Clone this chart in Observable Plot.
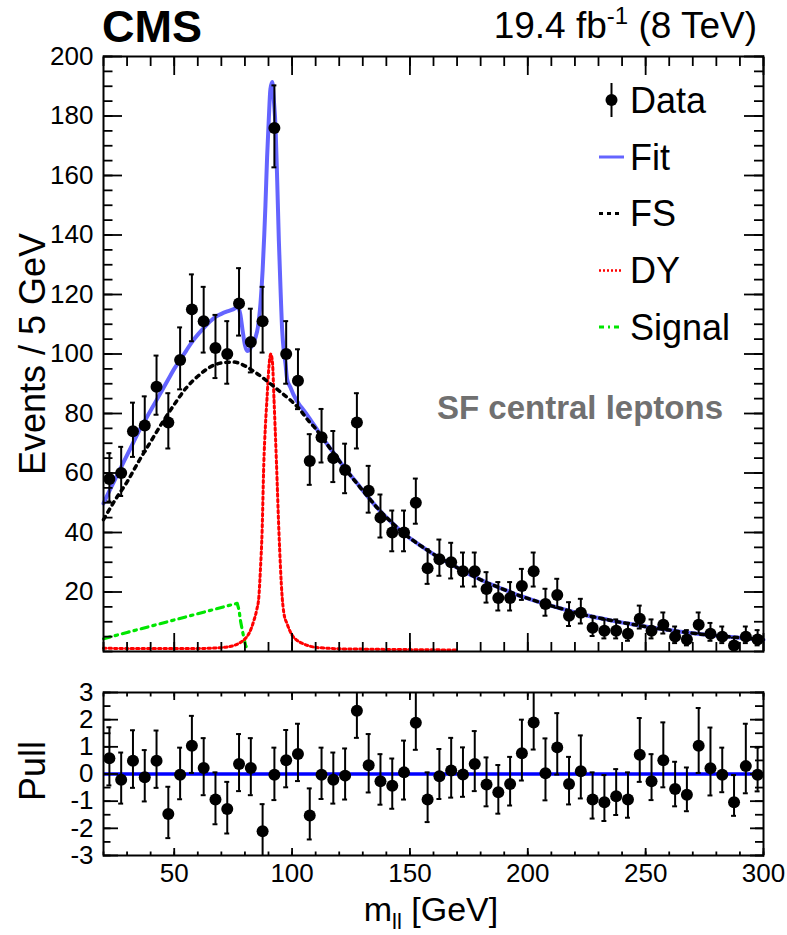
<!DOCTYPE html>
<html>
<head>
<meta charset="utf-8">
<script src="https://cdn.jsdelivr.net/npm/d3@7"></script>
<script src="https://cdn.jsdelivr.net/npm/@observablehq/plot@0.6"></script>
<style>
  html, body { margin: 0; padding: 0; background: #fff; }
  #chart { position: relative; width: 787px; height: 935px; overflow: hidden; background: #fff; }
  #chart > svg { position: absolute; left: 0; }
</style>
</head>
<body>
<div id="chart"></div>
<script>
// ---------------- data ----------------
const massBins = [22.5,27.5,32.5,37.5,42.5,47.5,52.5,57.5,62.5,67.5,72.5,77.5,82.5,87.5,92.5,97.5,102.5,107.5,112.5,117.5,122.5,127.5,132.5,137.5,142.5,147.5,152.5,157.5,162.5,167.5,172.5,177.5,182.5,187.5,192.5,197.5,202.5,207.5,212.5,217.5,222.5,227.5,232.5,237.5,242.5,247.5,252.5,257.5,262.5,267.5,272.5,277.5,282.5,287.5,292.5,297.5];
const events = [58,60,74,76,89,77,98,115,111,102,100,117,104,111,176,100,91,64,72,65,61,77,54,45,40,40,50,28,31,30,27,27,21,18,18,22,27,16,19,12,13,8,7,7,6,11,7,9,5,4,9,6,5,2,5,4];
const errLow = [7.60,7.73,8.59,8.70,9.42,8.76,9.89,10.71,10.52,10.09,9.99,10.81,10.19,10.52,13.26,9.99,9.53,7.98,8.47,8.05,7.79,8.76,7.33,6.69,6.31,6.31,7.05,5.27,5.55,5.45,5.17,5.17,4.56,4.22,4.22,4.66,5.17,3.97,4.33,3.43,3.58,2.79,2.60,2.60,2.40,3.28,2.60,2.96,2.18,1.94,2.96,2.40,2.18,1.32,2.18,1.94];
const errHigh = [8.67,8.79,9.65,9.76,10.47,9.82,10.94,11.76,11.57,11.14,11.04,11.85,11.23,11.57,14.29,11.04,10.58,9.05,9.53,9.11,8.86,9.82,8.40,7.77,7.38,7.38,8.13,6.36,6.63,6.54,6.27,6.27,5.67,5.33,5.33,5.77,6.27,5.09,5.44,4.57,4.71,3.97,3.78,3.78,3.60,4.43,3.78,4.12,3.40,3.18,4.12,3.60,3.40,2.66,3.40,3.18];

const pulls = [0.58,-0.21,0.49,-0.12,0.49,-1.47,-0.03,1.04,0.22,-0.94,-1.29,0.37,0.22,-2.11,-0.03,0.51,0.74,-1.53,-0.03,-0.21,-0.06,2.33,0.32,-0.27,-0.43,0.06,1.89,-0.94,-0.08,0.13,-0.02,0.37,-0.39,-0.67,-0.37,0.76,1.90,0.03,0.98,-0.37,0.10,-0.94,-1.04,-0.82,-0.94,0.71,-0.27,0.51,-0.55,-0.76,1.04,0.21,-0.03,-1.04,0.29,-0.03];
const pullErrLow = [1,0.88,1,0.89,1,0.89,0.90,1,1,0.91,0.90,1,1,0.91,0.93,1,1,0.88,0.89,0.88,0.88,1,1,0.86,0.85,1,1,0.83,0.84,1,0.82,1,0.80,0.79,0.79,1,1,1,1,0.75,1,0.70,0.69,0.69,0.67,1,0.69,1,0.64,0.61,1,1,0.64,0.50,1,0.61];
const pullErrHigh = [1.14,1,1.12,1,1.11,1,1,1.10,1.10,1,1,1.10,1.10,1,1,1.11,1.11,1,1,1,1,1.12,1.15,1,1,1.17,1.15,1,1,1.20,1,1.21,1,1,1,1.24,1.21,1.28,1.26,1,1.32,1,1,1,1,1.35,1,1.39,1,1,1.39,1.50,1,1,1.56,1];

const fitMass = [20,22.5,25,27.5,30,32.5,35,37.5,40,42.5,45,47.5,50,52.5,55,57.5,60,62.5,65,67.5,70,72.5,75,77,78,79,80,81,82,83,84.5,85.5,86.6,87.5,88.2,88.7,89.4,90.1,90.8,91.6,92.3,93,93.7,94.4,95.1,95.8,96.5,97.2,97.9,99.3,100.5,102.9,105,107.1,110,112.5,117.5,122.5,127.5,132.5,137.5,142.5,147.5,152.5,157.5,162.5,167.5,172.5,177.5,182.5,187.5,192.5,197.5,202.5,207.5,212.5,217.5,222.5,227.5,232.5,237.5,242.5,247.5,252.5,257.5,262.5,267.5,272.5,277.5,282.5,287.5,292.5,297.5,300];
const fitValues = [49.8,54,58,62,66,70,74,77.5,81,84.5,88,91.5,95,98,101,104,106.5,108.7,110.8,112.5,113.5,114.3,115,115.8,113.5,108,103,101,101.5,103,105.6,109,117,128,140,150,166,178.5,189,191.4,185,176,158,138,122,108,101,96.8,91.5,88.8,86.5,83.2,81,78.7,75.3,72.3,66.9,61.5,56.6,51.7,47.1,43.2,39.6,36.7,34.0,31.5,29.3,27.1,25.1,23.2,21.6,20.0,18.5,17.2,15.9,14.8,13.7,12.6,11.7,10.9,10.1,9.4,8.7,8.0,7.5,6.9,6.4,5.9,5.5,5.1,4.8,4.4,4.1,3.9];

const fsMass = [20,25,30,35,40,45,50,55,60,65,70,75,80,85,90,95,100,103,107,110,112.5,117.5,122.5,127.5,132.5,137.5,142.5,147.5,152.5,157.5,162.5,167.5,172.5,177.5,182.5,187.5,192.5,197.5,202.5,207.5,212.5,217.5,222.5,227.5,232.5,237.5,242.5,247.5,252.5,257.5,262.5,267.5,272.5,277.5,282.5,287.5,292.5,297.5,300];
const fsValues = [44.3,51,57,64,70.5,77,83,88.5,92.5,95.5,97,97.3,96,93.5,90.5,87.3,84,81.6,77.5,74.9,72.2,66.8,61.4,56.5,51.7,47.1,43.2,39.6,36.7,34.0,31.5,29.3,27.1,25.1,23.2,21.6,20.0,18.5,17.2,15.9,14.8,13.7,12.6,11.7,10.9,10.1,9.4,8.7,8.0,7.5,6.9,6.4,5.9,5.5,5.1,4.8,4.4,4.1,3.9];

const dyMass = [20,30,40,50,60,65,70,73,76,78,80,82,83.8,85,85.9,86.6,87.3,88,88.7,89.4,90.2,91,91.7,92.3,93.4,94.4,95.8,96.5,97.9,100,102.2,105,109.2,115,120,130,140,155,170];
const dyValues = [1.1,1.0,1.0,1.0,1.0,1.1,1.3,1.6,2.2,3.0,4.2,6.5,10.4,14,18.3,28,40.7,63,76,85.5,96,100,97,85.5,63,40.7,18.3,13,9.3,5.5,3.7,2.5,1.5,1.1,0.9,0.8,0.7,0.6,0.5];

const sigMass = [20,30,40,50,60,70,76.7,77.5,78.1,78.8,79.5,80.3,81.5];
const sigValues = [4.3,6.4,8.5,10.6,12.7,14.8,16.2,14,10.4,7.5,4.8,2.0,0.3];

const xTickLabels = [50,100,150,200,250,300];
const yTickLabels = [20,40,60,80,100,120,140,160,180,200];
const pullTickLabels = [-3,-2,-1,0,1,2,3];
const legendLabels = ["Data","Fit","FS","DY","Signal"];

// ---------------- derived tables ----------------
const pts = massBins.map((m, i) => ({m, n: events[i], lo: errLow[i], hi: errHigh[i],
  p: pulls[i], plo: pullErrLow[i], phi: pullErrHigh[i]}));
const toCurve = (xs, ys) => xs.map((m, i) => ({m, v: ys[i]}));
const fitCurve = toCurve(fitMass, fitValues);
const fsCurve = toCurve(fsMass, fsValues);
const dyCurve = toCurve(dyMass, dyValues);
const sigCurve = toCurve(sigMass, sigValues);

const xMinor = d3.range(20, 301, 10);
const yMinor = d3.range(0, 201, 5);
const pullMinor = d3.range(-3, 3.01, 0.5);

const FONT = '"Liberation Sans", Arial, Helvetica, sans-serif';
const COL_FIT = "#6464ff";
const COL_SIG = "#00e600";
const CAP = 1.05; // half cap width in GeV

function tk(axis, anchor, values, size) {
  const f = axis === "x" ? Plot.axisX : Plot.axisY;
  return f(values, {anchor, tickSize: -size, fill: "none", stroke: "#000", strokeWidth: 1.8, label: null});
}

const commonStyle = {fontFamily: FONT, fontSize: "26px", color: "#000", background: "transparent", overflow: "visible"};

// ---------------- top panel ----------------
const topPlot = Plot.plot({
  width: 787, height: 665,
  marginLeft: 103, marginRight: 24, marginTop: 56, marginBottom: 14,
  x: {domain: [20, 300], label: null},
  y: {domain: [0, 200], label: null},
  style: commonStyle,
  marks: [
    Plot.line(fitCurve, {x: "m", y: "v", stroke: COL_FIT, strokeWidth: 4, curve: "monotone-x"}),
    Plot.line(sigCurve, {x: "m", y: "v", stroke: COL_SIG, strokeWidth: 3.2, strokeDasharray: "7,5,2.5,5"}),
    Plot.line(dyCurve, {x: "m", y: "v", stroke: "#ff0000", strokeWidth: 3, strokeDasharray: "2.5,3", curve: "monotone-x"}),
    Plot.line(fsCurve, {x: "m", y: "v", stroke: "#000", strokeWidth: 3.5, strokeDasharray: "3.5,5", curve: "monotone-x"}),
    Plot.ruleX(pts, {x: "m", y1: d => d.n - d.lo, y2: d => d.n + d.hi, stroke: "#000", strokeWidth: 2}),
    Plot.ruleY(pts, {y: d => d.n - d.lo, x1: d => d.m - CAP, x2: d => d.m + CAP, stroke: "#000", strokeWidth: 2}),
    Plot.ruleY(pts, {y: d => d.n + d.hi, x1: d => d.m - CAP, x2: d => d.m + CAP, stroke: "#000", strokeWidth: 2}),
    Plot.dot(pts, {x: "m", y: "n", r: 6, fill: "#000", stroke: null}),
    tk("x", "bottom", xTickLabels, 18), tk("x", "bottom", xMinor, 9),
    tk("x", "top", xTickLabels, 18), tk("x", "top", xMinor, 9),
    tk("y", "left", yTickLabels, 19), tk("y", "left", yMinor, 9.5),
    tk("y", "right", yTickLabels, 20), tk("y", "right", yMinor, 10),
    Plot.axisY(yTickLabels, {anchor: "left", tickSize: 0, tickPadding: 10, fontSize: 26, label: null, tickFormat: d => String(d)}),
    Plot.frame({stroke: "#000", strokeWidth: 2})
  ]
});
topPlot.style.top = "0px";

// ---------------- pull panel ----------------
const pullPlot = Plot.plot({
  width: 787, height: 270,
  marginLeft: 103, marginRight: 24, marginTop: 27, marginBottom: 80,
  x: {domain: [20, 300], label: null},
  y: {domain: [-3, 3], label: null},
  style: commonStyle,
  marks: [
    Plot.ruleY([0], {stroke: "#0000ff", strokeWidth: 3.5}),
    Plot.ruleX(pts, {x: "m", y1: d => d.p - d.plo, y2: d => d.p + d.phi, stroke: "#000", strokeWidth: 2, clip: true}),
    Plot.ruleY(pts, {y: d => d.p - d.plo, x1: d => d.m - CAP, x2: d => d.m + CAP, stroke: "#000", strokeWidth: 2, clip: true}),
    Plot.ruleY(pts, {y: d => d.p + d.phi, x1: d => d.m - CAP, x2: d => d.m + CAP, stroke: "#000", strokeWidth: 2, clip: true}),
    Plot.dot(pts, {x: "m", y: "p", r: 6, fill: "#000", stroke: null}),
    tk("x", "bottom", xTickLabels, 7), tk("x", "bottom", xMinor, 3.5),
    tk("x", "top", xTickLabels, 7), tk("x", "top", xMinor, 3.5),
    tk("y", "left", pullTickLabels, 15), tk("y", "left", pullMinor, 7.5),
    tk("y", "right", pullTickLabels, 14), tk("y", "right", pullMinor, 9),
    Plot.axisY(pullTickLabels, {anchor: "left", tickSize: 0, tickPadding: 10, fontSize: 26, label: null, tickFormat: d => String(d)}),
    Plot.axisX(xTickLabels, {anchor: "bottom", tickSize: 0, tickPadding: 8, fontSize: 26, label: null, tickFormat: d => String(d)}),
    Plot.frame({stroke: "#000", strokeWidth: 2})
  ]
});
pullPlot.style.top = "665px";

const chart = document.getElementById("chart");
chart.appendChild(topPlot);
chart.appendChild(pullPlot);

// ---------------- titles, axis titles, legend (overlay) ----------------
const ov = d3.select(chart).append("svg")
  .attr("width", 787).attr("height", 935)
  .style("position", "absolute").style("top", "0px").style("left", "0px")
  .style("pointer-events", "none")
  .attr("font-family", FONT);

ov.append("text").attr("x", 102).attr("y", 42).attr("font-size", 45).attr("font-weight", "bold").text("CMS");

const lumi = ov.append("text").attr("x", 757).attr("y", 38).attr("font-size", 37).attr("text-anchor", "end");
lumi.append("tspan").text("19.4 fb");
lumi.append("tspan").attr("font-size", 24).attr("dy", -14).text("-1");
lumi.append("tspan").attr("dy", 14).text(" (8 TeV)");

ov.append("text").attr("x", 723).attr("y", 419).attr("font-size", 33).attr("font-weight", "bold")
  .attr("fill", "#707070").attr("text-anchor", "end").text("SF central leptons");

ov.append("text").attr("transform", "translate(45,354) rotate(-90)").attr("text-anchor", "middle")
  .attr("font-size", 36).text("Events / 5 GeV");
ov.append("text").attr("transform", "translate(45,771) rotate(-90)").attr("text-anchor", "middle")
  .attr("font-size", 36).text("Pull");

const xt = ov.append("text").attr("x", 431).attr("y", 921).attr("font-size", 34).attr("text-anchor", "middle");
xt.append("tspan").text("m");
xt.append("tspan").attr("font-size", 22).attr("dy", 8).text("ll");
xt.append("tspan").attr("dy", -8).text(" [GeV]");

// legend
const legY = [100, 157, 213.5, 270.5, 327];
const lg = ov.append("g");
legendLabels.forEach((lab, i) => {
  lg.append("text").attr("x", 630).attr("y", legY[i] + 12.9).attr("font-size", 36).text(lab);
});
lg.append("line").attr("x1", 611.5).attr("x2", 611.5).attr("y1", 83).attr("y2", 117).attr("stroke", "#000").attr("stroke-width", 2);
lg.append("circle").attr("cx", 611.5).attr("cy", 100).attr("r", 6).attr("fill", "#000");
lg.append("line").attr("x1", 599).attr("x2", 624).attr("y1", legY[1]).attr("y2", legY[1]).attr("stroke", COL_FIT).attr("stroke-width", 3);
lg.append("line").attr("x1", 599).attr("x2", 623).attr("y1", legY[2]).attr("y2", legY[2]).attr("stroke", "#000").attr("stroke-width", 3).attr("stroke-dasharray", "4,4");
lg.append("line").attr("x1", 599).attr("x2", 623).attr("y1", legY[3]).attr("y2", legY[3]).attr("stroke", "#ff0000").attr("stroke-width", 2.5).attr("stroke-dasharray", "2,2");
lg.append("line").attr("x1", 599).attr("x2", 623).attr("y1", legY[4]).attr("y2", legY[4]).attr("stroke", COL_SIG).attr("stroke-width", 3).attr("stroke-dasharray", "5,4,2,4");
</script>
</body>
</html>
